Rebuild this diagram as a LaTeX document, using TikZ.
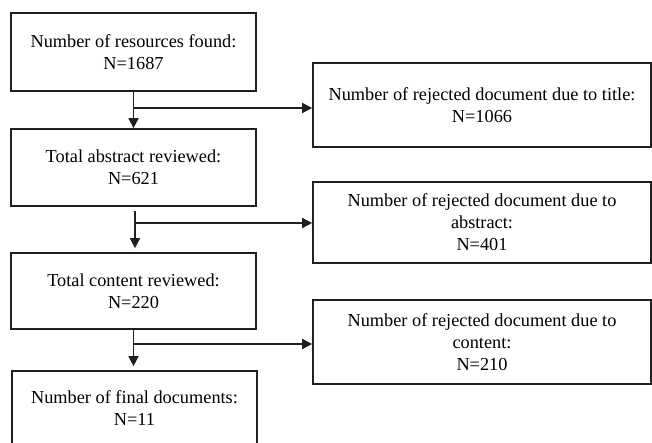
\documentclass[tikz,border=0pt]{standalone}
\usepackage{fontspec}
\setmainfont{Liberation Serif}
\usetikzlibrary{arrows.meta}
\begin{document}
\begin{tikzpicture}[x=1pt,y=-1pt,
  box/.style={draw=black!88,line width=1.7pt,rectangle,align=center,inner sep=0pt,
    font=\fontsize{18.3}{22}\selectfont,text=black},
  lbox/.style={box,minimum width=245pt},
  rbox/.style={box,minimum width=338pt},
  arr/.style={draw=black!88,line width=1.7pt,-{Triangle[length=10pt,width=10pt]}}]
\clip (0,0) rectangle (652,443);
\useasboundingbox (0,0) rectangle (652,443);
\fill[white] (0,0) rectangle (652,443);
\node[lbox,minimum height=78pt] (b1) at (133.5,52) {Number of resources found:\\N=1687};
\node[rbox,minimum height=84pt] (r1) at (482,105) {Number of rejected document due to title:\\N=1066};
\node[lbox,minimum height=77pt] (b2) at (133.5,167.5) {Total abstract reviewed:\\N=621};
\node[rbox,minimum height=81pt] (r2) at (482,222.5) {Number of rejected document due to\\abstract:\\N=401};
\node[lbox,minimum height=76pt] (b3) at (133.5,291) {Total content reviewed:\\N=220};
\node[rbox,minimum height=84pt] (r3) at (482,342) {Number of rejected document due to\\content:\\N=210};
\node[lbox,minimum height=74pt] (b4) at (134.5,408) {Number of final documents:\\N=11};
\coordinate (j1) at (133.5,108);
\coordinate (j2) at (135,223);
\coordinate (j3) at (134,344);
\draw[arr] (b1.south) -- (b2.north);
\draw[arr] (j1) -- (j1 -| r1.west);
\draw[arr,shorten <=4pt,shorten >=4pt] (b2.south -| j2) -- (b3.north -| j2);
\draw[arr] (j2) -- (j2 -| r2.west);
\draw[arr,shorten >=4pt] (b3.south) -- (b4.north -| b3.south);
\draw[arr] (j3) -- (j3 -| r3.west);
\end{tikzpicture}
\end{document}
